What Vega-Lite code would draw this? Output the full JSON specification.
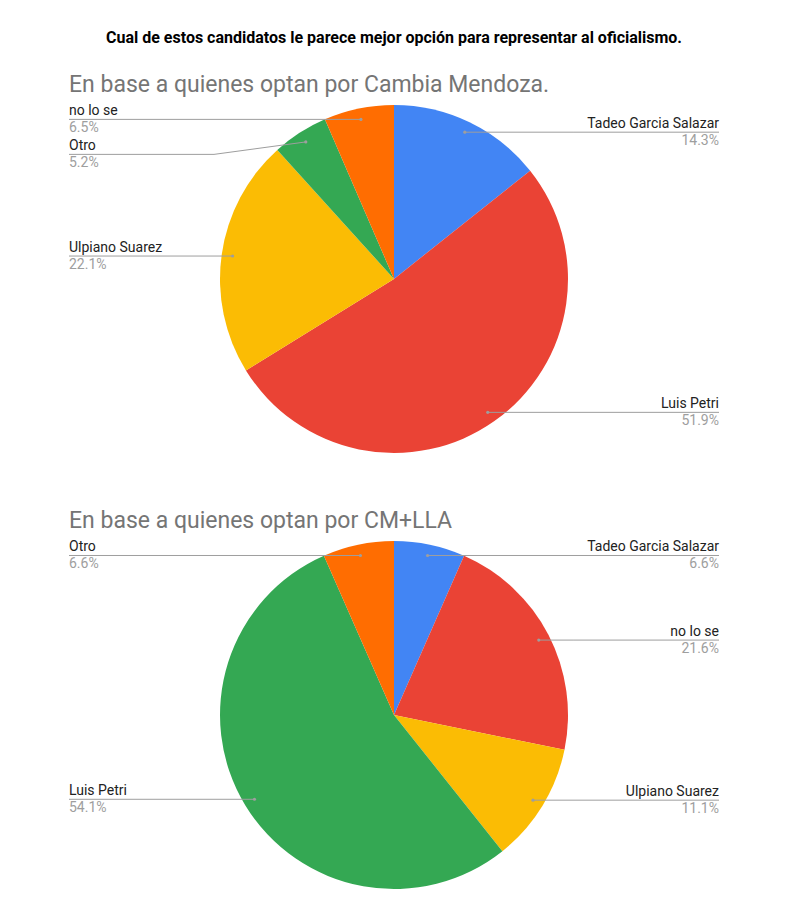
{
  "$schema": "https://vega.github.io/schema/vega-lite/v6.json",
  "description": "Dos tortas: mejor candidato del oficialismo segun votantes de Cambia Mendoza y CM+LLA.",
  "background": "white",
  "padding": {"left": 68, "top": 30, "right": 72, "bottom": 10},
  "title": {
    "text": "Cual de estos candidatos le parece mejor opción para representar al oficialismo.",
    "font": "Roboto", "fontSize": 16, "fontWeight": "bold", "color": "#000000",
    "anchor": "middle", "offset": 28
  },
  "data": {
    "values": [
      {"grupo": "En base a quienes optan por Cambia Mendoza.", "candidato": "Tadeo Garcia Salazar", "pct": 14.3, "orden": 1},
      {"grupo": "En base a quienes optan por Cambia Mendoza.", "candidato": "Luis Petri", "pct": 51.9, "orden": 2},
      {"grupo": "En base a quienes optan por Cambia Mendoza.", "candidato": "Ulpiano Suarez", "pct": 22.1, "orden": 3},
      {"grupo": "En base a quienes optan por Cambia Mendoza.", "candidato": "Otro", "pct": 5.2, "orden": 4},
      {"grupo": "En base a quienes optan por Cambia Mendoza.", "candidato": "no lo se", "pct": 6.5, "orden": 5},
      {"grupo": "En base a quienes optan por CM+LLA", "candidato": "Tadeo Garcia Salazar", "pct": 6.6, "orden": 1},
      {"grupo": "En base a quienes optan por CM+LLA", "candidato": "no lo se", "pct": 21.6, "orden": 2},
      {"grupo": "En base a quienes optan por CM+LLA", "candidato": "Ulpiano Suarez", "pct": 11.1, "orden": 3},
      {"grupo": "En base a quienes optan por CM+LLA", "candidato": "Luis Petri", "pct": 54.1, "orden": 4},
      {"grupo": "En base a quienes optan por CM+LLA", "candidato": "Otro", "pct": 6.6, "orden": 5}
    ]
  },
  "transform": [
    {"window": [{"op": "sum", "field": "pct", "as": "fin"}], "groupby": ["grupo"], "sort": [{"field": "orden"}], "frame": [null, 0]},
    {"calculate": "datum.fin - datum.pct", "as": "inicio"},
    {"calculate": "(datum.inicio + datum.pct / 2) / 100 * 2 * PI", "as": "ang"},
    {"calculate": "163 * sin(datum.ang)", "as": "dx"},
    {"calculate": "-163 * cos(datum.ang)", "as": "dy"},
    {"calculate": "datum.dx < 0 ? 'izq' : 'der'", "as": "lado"},
    {"window": [{"op": "lag", "field": "dy", "as": "dyPrev"}], "groupby": ["grupo", "lado"], "sort": [{"field": "dy"}]},
    {"calculate": "datum.dyPrev == null ? datum.dy : max(datum.dy, datum.dyPrev + 35)", "as": "ly"},
    {"calculate": "datum.lado == 'izq' ? -180 : 180", "as": "bx"},
    {"calculate": "datum.lado == 'izq' ? -325 : 325", "as": "ex"},
    {"calculate": "format(datum.pct, '.1f') + '%'", "as": "pctTxt"}
  ],
  "facet": {
    "field": "grupo", "type": "nominal",
    "sort": ["En base a quienes optan por Cambia Mendoza.", "En base a quienes optan por CM+LLA"],
    "header": {
      "title": null, "labelFont": "Roboto", "labelFontSize": 23, "labelColor": "#757575",
      "labelAnchor": "start", "labelPadding": 7, "labelLimit": 0
    }
  },
  "columns": 1,
  "spacing": 56,
  "spec": {
    "width": 650,
    "height": 350,
    "layer": [
      {
        "mark": {"type": "arc", "outerRadius": 174},
        "encoding": {
          "theta": {"field": "inicio", "type": "quantitative", "scale": {"domain": [0, 100], "range": [0, 6.283185307]}},
          "theta2": {"field": "fin"},
          "color": {"field": "orden", "type": "ordinal", "legend": null,
            "scale": {"domain": [1, 2, 3, 4, 5], "range": ["#4285F4", "#EA4335", "#FBBC04", "#34A853", "#FF6D01"]}}
        }
      },
      {
        "mark": {"type": "rule", "color": "#9e9e9e", "strokeWidth": 1},
        "encoding": {
          "x": {"field": "dx", "type": "quantitative", "axis": null, "scale": {"domain": [-325, 325], "nice": false, "zero": false}},
          "y": {"field": "dy", "type": "quantitative", "axis": null, "scale": {"domain": [-175, 175], "nice": false, "zero": false, "reverse": true}},
          "x2": {"field": "bx"},
          "y2": {"field": "ly"}
        }
      },
      {
        "mark": {"type": "rule", "color": "#9e9e9e", "strokeWidth": 1},
        "encoding": {
          "x": {"field": "bx", "type": "quantitative", "axis": null},
          "y": {"field": "ly", "type": "quantitative", "axis": null},
          "x2": {"field": "ex"},
          "y2": {"field": "ly"}
        }
      },
      {
        "mark": {"type": "circle", "size": 10, "color": "#9e9e9e", "opacity": 1},
        "encoding": {
          "x": {"field": "dx", "type": "quantitative", "axis": null},
          "y": {"field": "dy", "type": "quantitative", "axis": null}
        }
      },
      {
        "transform": [{"filter": "datum.lado == 'izq'"}],
        "mark": {"type": "text", "align": "left", "baseline": "bottom", "dy": -1, "font": "Roboto", "fontSize": 14, "color": "#222222"},
        "encoding": {
          "x": {"field": "ex", "type": "quantitative", "axis": null},
          "y": {"field": "ly", "type": "quantitative", "axis": null},
          "text": {"field": "candidato"}
        }
      },
      {
        "transform": [{"filter": "datum.lado == 'izq'"}],
        "mark": {"type": "text", "align": "left", "baseline": "top", "dy": 2, "font": "Roboto", "fontSize": 14, "color": "#9e9e9e"},
        "encoding": {
          "x": {"field": "ex", "type": "quantitative", "axis": null},
          "y": {"field": "ly", "type": "quantitative", "axis": null},
          "text": {"field": "pctTxt"}
        }
      },
      {
        "transform": [{"filter": "datum.lado == 'der'"}],
        "mark": {"type": "text", "align": "right", "baseline": "bottom", "dy": -1, "font": "Roboto", "fontSize": 14, "color": "#222222"},
        "encoding": {
          "x": {"field": "ex", "type": "quantitative", "axis": null},
          "y": {"field": "ly", "type": "quantitative", "axis": null},
          "text": {"field": "candidato"}
        }
      },
      {
        "transform": [{"filter": "datum.lado == 'der'"}],
        "mark": {"type": "text", "align": "right", "baseline": "top", "dy": 2, "font": "Roboto", "fontSize": 14, "color": "#9e9e9e"},
        "encoding": {
          "x": {"field": "ex", "type": "quantitative", "axis": null},
          "y": {"field": "ly", "type": "quantitative", "axis": null},
          "text": {"field": "pctTxt"}
        }
      }
    ]
  },
  "config": {"view": {"stroke": null}}
}
